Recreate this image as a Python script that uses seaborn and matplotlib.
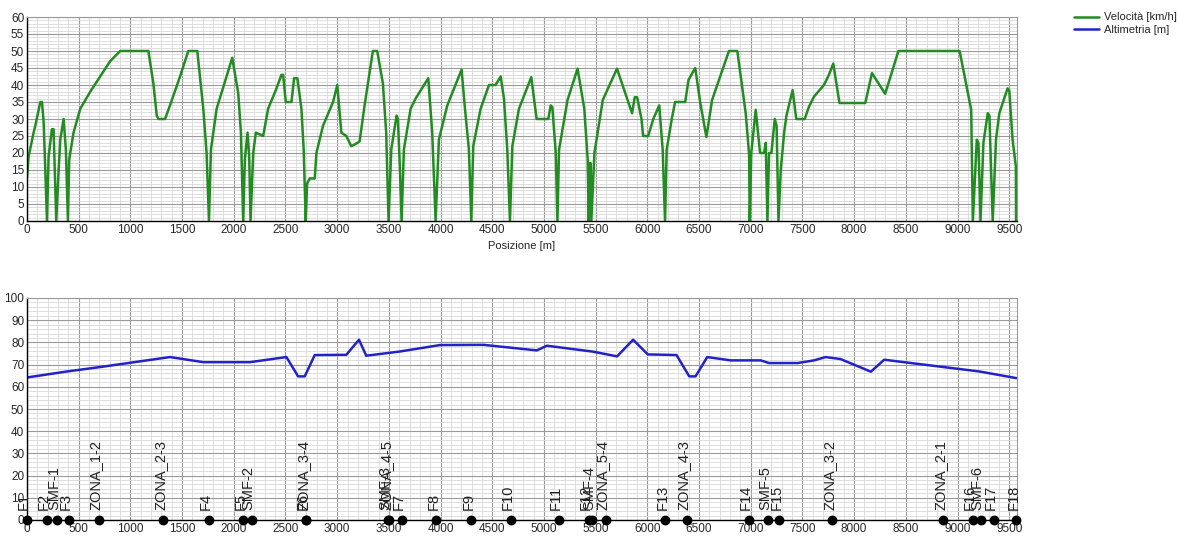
import numpy as np
import pandas as pd
import seaborn as sns
import matplotlib.pyplot as plt
from matplotlib.ticker import MultipleLocator

# velocity profile [m] -> [km/h]
vel_x = [0, 16, 64, 80, 129, 145, 161, 177, 193, 209, 241, 257, 273, 283, 306, 322, 354, 376, 396,
         408, 450, 515, 611, 708, 804, 901, 1174, 1222, 1255, 1271, 1335, 1383, 1480, 1560, 1647,
         1705, 1737, 1760, 1779, 1834, 1914, 1985, 2043, 2069, 2091, 2107, 2133, 2149, 2162, 2188,
         2213, 2284, 2332, 2413, 2461, 2477, 2503, 2558, 2583, 2615, 2654, 2676, 2696, 2709, 2734,
         2783, 2799, 2863, 2960, 3001, 3040, 3088, 3136, 3169, 3217, 3265, 3345, 3387, 3442, 3474,
         3497, 3523, 3574, 3587, 3606, 3623, 3645, 3710, 3758, 3881, 3919, 3952, 3984, 4065, 4203,
         4236, 4274, 4297, 4316, 4387, 4468, 4532, 4581, 4613, 4645, 4671, 4694, 4758, 4877, 4929,
         5042, 5065, 5081, 5114, 5130, 5146, 5228, 5325, 5390, 5423, 5433, 5439, 5452, 5458, 5488,
         5569, 5706, 5829, 5852, 5878, 5901, 5943, 5959, 6008, 6057, 6115, 6148, 6171, 6187, 6236,
         6268, 6366, 6398, 6463, 6512, 6571, 6626, 6789, 6870, 6951, 6984, 6990, 7005, 7048, 7090,
         7129, 7145, 7161, 7177, 7200, 7232, 7250, 7268, 7290, 7323, 7345, 7405, 7440, 7522, 7564,
         7612, 7708, 7756, 7798, 7858, 8108, 8172, 8300, 8428, 9020, 9132, 9148, 9186, 9202, 9222,
         9250, 9292, 9308, 9340, 9372, 9404, 9484, 9500, 9532, 9564, 9566]
vel_y = [13, 19, 26, 28, 35, 35, 29, 15, 0, 19, 27, 27, 11, 0, 15, 24, 30, 21, 0,
         18, 26, 33, 38, 42.5, 47, 50, 50, 40.5, 31, 30, 30, 34, 42.5, 50, 50,
         33, 20, 0, 21, 33, 41, 48, 37.6, 26, 0, 18, 26, 19, 0, 20,
         26, 25, 33, 39, 43, 43, 35, 35, 42, 42, 33, 21, 0, 11, 12.5,
         12.5, 20, 28, 35, 40, 26, 25, 22, 22.5, 23.4, 34, 50, 50, 40.5, 26,
         0, 21, 31, 30, 16, 0, 21, 33, 36, 42, 26, 0, 24, 34, 44.5,
         33, 21, 0, 22, 33, 40, 40, 42.5, 36, 21, 0, 22, 33, 42.3, 30,
         30, 34, 33.5, 20, 0, 21, 35.6, 44.8, 33, 18, 0, 17, 17, 0, 20,
         35.6, 44.8, 33.7, 31.7, 36.4, 36.4, 30, 25, 25, 30, 34, 21, 0, 21, 30,
         35, 35, 41.5, 45, 34.7, 24.7, 35.6, 50, 50, 31.7, 19.6, 0, 20, 32.7, 20,
         20, 23, 0, 20, 20, 30, 28, 0, 15, 26, 31, 38.5, 30, 30, 33.7,
         36.6, 40, 43, 46.3, 34.7, 34.7, 43.5, 37.4, 50, 50, 32.7, 0, 23.9, 23, 0,
         23, 31.7, 31, 0, 24, 31.7, 39, 38.5, 24, 16, 0]

# altimetry [m]
alt_x = [0, 386, 708, 1383, 1705, 2156, 2509, 2622, 2686, 2783, 3088, 3211, 3281, 3606, 3994,
         4414, 4931, 5028, 5480, 5707, 5862, 6004, 6282, 6405, 6466, 6579, 6805, 7096, 7177,
         7452, 7612, 7724, 7868, 8162, 8290, 9212, 9570]
alt_y = [64.2, 66.9, 68.9, 73.4, 71.1, 71.1, 73.4, 64.7, 64.7, 74.3, 74.4, 81.2, 74.0, 75.9, 78.8,
         78.9, 76.4, 78.5, 75.8, 73.7, 81.2, 74.6, 74.3, 64.7, 64.7, 73.4, 71.9, 71.9, 70.7,
         70.7, 71.9, 73.4, 72.5, 66.8, 72.2, 66.9, 63.9]

# points along the line
pt_labels = ["F1", "F2", "SMF-1", "F3", "ZONA_1-2", "ZONA_2-3", "F4", "F5", "SMF-2", "F6",
             "ZONA_3-4", "SMF-3", "ZONA_4-5", "F7", "F8", "F9", "F10", "F11", "F12", "SMF-4",
             "ZONA_5-4", "F13", "ZONA_4-3", "F14", "SMF-5", "F15", "ZONA_3-2", "ZONA_2-1",
             "F16", "SMF-6", "F17", "F18"]
pt_x = [0, 193, 290, 402, 692, 1319, 1760, 2091, 2172, 2696,
        2700, 3490, 3500, 3623, 3958, 4297, 4681, 5145, 5436, 5468,
        5597, 6175, 6379, 6983, 7167, 7274, 7788, 8860,
        9148, 9222, 9350, 9570]

vel = pd.DataFrame({"x": vel_x, "v": vel_y})
alt = pd.DataFrame({"x": alt_x, "h": alt_y})
pts = pd.DataFrame({"x": pt_x, "y": [0] * len(pt_x), "label": pt_labels})

sns.set_theme(style="white")
plt.rcParams['font.family'] = ['Liberation Sans', 'DejaVu Sans']

fig = plt.figure(figsize=(11.79, 5.39), dpi=100)
ax1 = fig.add_axes([27 / 1179, 1 - 221 / 539, 990 / 1179, 204 / 539])
ax2 = fig.add_axes([27 / 1179, 1 - 520 / 539, 990 / 1179, 222 / 539])

green = "#228B22"
blue = "#2222C8"

sns.lineplot(data=vel, x="x", y="v", ax=ax1, color=green, lw=1.8, sort=False,
             estimator=None, label="Velocità [km/h]", legend=False)
sns.lineplot(data=alt, x="x", y="h", ax=ax2, color=blue, lw=1.8, sort=False,
             estimator=None, label="Altimetria [m]", legend=False)
sns.scatterplot(data=pts, x="x", y="y", ax=ax2, color="black", s=50, legend=False,
                edgecolor="black", linewidth=0, zorder=5, clip_on=False)
if ax2.get_legend() is not None:
    ax2.get_legend().remove()

for lab, x in zip(pt_labels, pt_x):
    ax2.annotate(lab, (x, 0), xytext=(3, 7), textcoords="offset points",
                 rotation=90, ha="right", va="bottom", fontsize=10.5, color="#222222",
                 annotation_clip=False)

for ax, ymax, ymaj, ymin in [(ax1, 60, 5, 1), (ax2, 100, 10, 2)]:
    ax.set_xlim(0, 9575)
    ax.set_ylim(0, ymax)
    ax.xaxis.set_major_locator(MultipleLocator(500))
    ax.xaxis.set_minor_locator(MultipleLocator(100))
    ax.yaxis.set_major_locator(MultipleLocator(ymaj))
    ax.yaxis.set_minor_locator(MultipleLocator(ymin))
    ax.grid(which="major", color="#9a9a9a", lw=0.8)
    ax.grid(which="minor", color="#d9d9d9", lw=0.6)
    ax.set_axisbelow(True)
    ax.tick_params(which="both", length=0, labelsize=8.5, pad=2)
    for s in ["left", "bottom"]:
        ax.spines[s].set_color("black")
        ax.spines[s].set_linewidth(1.0)
    for s in ["top", "right"]:
        ax.spines[s].set_color("#9a9a9a")
        ax.spines[s].set_linewidth(0.8)
    ax.set_ylabel("")

ax1.set_xlabel("Posizione [m]", fontsize=8, labelpad=4)
ax2.set_xlabel("")

h1, l1 = ax1.get_legend_handles_labels()
h2, l2 = ax2.get_legend_handles_labels()
fig.legend(h1 + h2[:1], l1 + l2[:1], loc="upper left",
           bbox_to_anchor=(1070 / 1179, 1 - 8 / 539), frameon=False, fontsize=8,
           handlelength=2.2, handletextpad=0.5, labelspacing=0.2, borderaxespad=0)

fig.savefig("out.png", dpi=100)
